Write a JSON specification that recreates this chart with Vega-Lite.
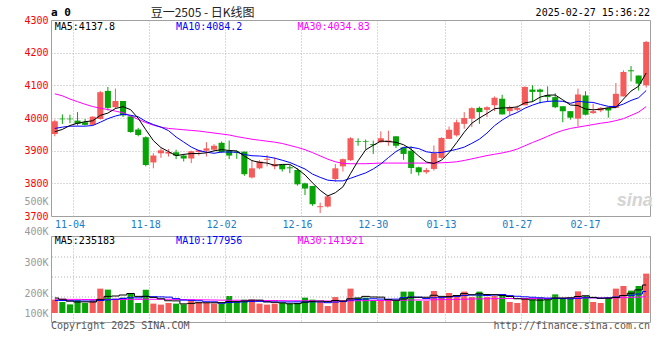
{
"$schema":"https://vega.github.io/schema/vega-lite/v6.json",
"padding":{"left":23,"top":6,"right":8,"bottom":4},
"background":"white",
"bounds":"flush",
"spacing":20,
"config":{"view":{"stroke":"#a0a0a0","strokeWidth":1},"font":"DejaVu Sans Mono","axis":{"labelOverlap":false}},
"datasets":{"k":[
{"d":"10-31","o":3951,"h":3995,"l":3944,"c":3990,"v":107000,"m5":3958,"m10":3968,"m30":4074,"vm5":120000,"vm10":100000,"vm30":110000},
{"d":"11-01","o":3998,"h":4011,"l":3982,"c":3996,"v":88000,"m5":3965,"m10":3972,"m30":4068,"vm5":110000,"vm10":100000,"vm30":110000},
{"d":"11-04","o":3998,"h":4010,"l":3984,"c":3996,"v":69000,"m5":3977,"m10":3975,"m30":4058,"vm5":95000,"vm10":98000,"vm30":109000},
{"d":"11-05","o":3992,"h":4018,"l":3977,"c":3982,"v":101000,"m5":3984,"m10":3975,"m30":4050,"vm5":88000,"vm10":97000,"vm30":109000},
{"d":"11-06","o":3987,"h":3997,"l":3977,"c":3979,"v":80000,"m5":3988.6,"m10":3975,"m30":4042,"vm5":89000,"vm10":96000,"vm30":108000},
{"d":"11-07","o":3979,"h":4005,"l":3977,"c":4004,"v":101000,"m5":3991.4,"m10":3977,"m30":4035,"vm5":88000,"vm10":96000,"vm30":108000},
{"d":"11-08","o":3997,"h":4083,"l":3995,"c":4079,"v":195000,"m5":4008,"m10":3987,"m30":4030,"vm5":109000,"vm10":100000,"vm30":108000},
{"d":"11-11","o":4083,"h":4095,"l":4023,"c":4031,"v":187000,"m5":4015,"m10":3998,"m30":4026,"vm5":133000,"vm10":105000,"vm30":108000},
{"d":"11-12","o":4033,"h":4090,"l":4028,"c":4052,"v":115000,"m5":4029,"m10":4006,"m30":4021,"vm5":136000,"vm10":110000,"vm30":108000},
{"d":"11-13","o":4052,"h":4052,"l":4003,"c":4008,"v":123000,"m5":4034.8,"m10":4011.7,"m30":4016,"vm5":144000,"vm10":116500,"vm30":108000},
{"d":"11-14","o":4005,"h":4005,"l":3955,"c":3957,"v":160000,"m5":4025.4,"m10":4008.4,"m30":4006,"vm5":156000,"vm10":122000,"vm30":109000},
{"d":"11-15","o":3965,"h":3970,"l":3944,"c":3948,"v":80000,"m5":3999.2,"m10":4003.6,"m30":3996,"vm5":133000,"vm10":121000,"vm30":109000},
{"d":"11-18","o":3941,"h":3944,"l":3852,"c":3856,"v":187000,"m5":3964.2,"m10":3989.6,"m30":3986,"vm5":133000,"vm10":133000,"vm30":110000},
{"d":"11-19","o":3864,"h":3892,"l":3846,"c":3885,"v":75000,"m5":3930.8,"m10":3979.9,"m30":3978,"vm5":125000,"vm10":130500,"vm30":110000},
{"d":"11-20","o":3892,"h":3907,"l":3878,"c":3901,"v":67000,"m5":3909.4,"m10":3972.1,"m30":3972,"vm5":114000,"vm10":129000,"vm30":110000},
{"d":"11-21","o":3891,"h":3905,"l":3882,"c":3896,"v":80000,"m5":3897.2,"m10":3961.3,"m30":3968,"vm5":98000,"vm10":127000,"vm30":110000},
{"d":"11-22","o":3895,"h":3903,"l":3874,"c":3885,"v":75000,"m5":3884.6,"m10":3941.9,"m30":3966,"vm5":97000,"vm10":115000,"vm30":109000},
{"d":"11-25","o":3885,"h":3890,"l":3867,"c":3876,"v":69000,"m5":3888.6,"m10":3926.4,"m30":3964,"vm5":73000,"vm10":103000,"vm30":108000},
{"d":"11-26","o":3876,"h":3900,"l":3862,"c":3898,"v":96000,"m5":3891.2,"m10":3911,"m30":3962,"vm5":77000,"vm10":101000,"vm30":107000},
{"d":"11-27","o":3896,"h":3903,"l":3885,"c":3901,"v":88000,"m5":3891.2,"m10":3900.3,"m30":3960,"vm5":82000,"vm10":98000,"vm30":106000},
{"d":"11-28","o":3900,"h":3926,"l":3882,"c":3907,"v":80000,"m5":3893.4,"m10":3895.3,"m30":3957,"vm5":82000,"vm10":90000,"vm30":105000},
{"d":"11-29","o":3903,"h":3920,"l":3900,"c":3915,"v":75000,"m5":3899.4,"m10":3892,"m30":3954,"vm5":82000,"vm10":89500,"vm30":104000},
{"d":"12-02","o":3924,"h":3928,"l":3893,"c":3895,"v":75000,"m5":3903.2,"m10":3895.9,"m30":3951,"vm5":83000,"vm10":78000,"vm30":103000},
{"d":"12-03","o":3900,"h":3931,"l":3874,"c":3885,"v":136000,"m5":3900.6,"m10":3895.9,"m30":3948,"vm5":91000,"vm10":84000,"vm30":102000},
{"d":"12-04","o":3897,"h":3900,"l":3875,"c":3894,"v":88000,"m5":3899.2,"m10":3895.2,"m30":3943,"vm5":91000,"vm10":86500,"vm30":102000},
{"d":"12-05","o":3897,"h":3897,"l":3823,"c":3828,"v":107000,"m5":3883.4,"m10":3888.4,"m30":3939,"vm5":96000,"vm10":89000,"vm30":101000},
{"d":"12-06","o":3818,"h":3869,"l":3815,"c":3846,"v":107000,"m5":3869.6,"m10":3884.5,"m30":3935,"vm5":103000,"vm10":92500,"vm30":101000},
{"d":"12-09","o":3846,"h":3871,"l":3843,"c":3867,"v":75000,"m5":3864,"m10":3883.6,"m30":3932,"vm5":103000,"vm10":93000,"vm30":100000},
{"d":"12-10","o":3872,"h":3887,"l":3852,"c":3875,"v":67000,"m5":3862,"m10":3881.3,"m30":3929,"vm5":89000,"vm10":90000,"vm30":100000},
{"d":"12-11","o":3852,"h":3879,"l":3843,"c":3859,"v":75000,"m5":3855,"m10":3877.1,"m30":3926,"vm5":86000,"vm10":88500,"vm30":100000},
{"d":"12-12","o":3857,"h":3857,"l":3836,"c":3843,"v":80000,"m5":3858,"m10":3870.7,"m30":3922,"vm5":81000,"vm10":88500,"vm30":99000},
{"d":"12-13","o":3849,"h":3856,"l":3831,"c":3846,"v":75000,"m5":3858,"m10":3863.8,"m30":3916,"vm5":74000,"vm10":88500,"vm30":98000},
{"d":"12-16","o":3841,"h":3846,"l":3793,"c":3797,"v":80000,"m5":3844,"m10":3854,"m30":3910,"vm5":75000,"vm10":89000,"vm30":98000},
{"d":"12-17","o":3800,"h":3802,"l":3764,"c":3784,"v":123000,"m5":3825.8,"m10":3843.9,"m30":3903,"vm5":87000,"vm10":88000,"vm30":98000},
{"d":"12-18","o":3792,"h":3792,"l":3731,"c":3736,"v":107000,"m5":3801.2,"m10":3828.1,"m30":3894,"vm5":93000,"vm10":89500,"vm30":98000},
{"d":"12-19","o":3727,"h":3741,"l":3709,"c":3730,"v":88000,"m5":3778.6,"m10":3818.3,"m30":3884,"vm5":95000,"vm10":88000,"vm30":97000},
{"d":"12-20","o":3729,"h":3765,"l":3726,"c":3760,"v":56000,"m5":3761.4,"m10":3809.7,"m30":3874,"vm5":91000,"vm10":82500,"vm30":96000},
{"d":"12-23","o":3813,"h":3859,"l":3805,"c":3846,"v":128000,"m5":3771.2,"m10":3807.6,"m30":3866,"vm5":100000,"vm10":87500,"vm30":96000},
{"d":"12-24","o":3852,"h":3876,"l":3836,"c":3874,"v":101000,"m5":3789.2,"m10":3807.5,"m30":3861,"vm5":96000,"vm10":91500,"vm30":96000},
{"d":"12-25","o":3871,"h":3941,"l":3869,"c":3938,"v":195000,"m5":3829.6,"m10":3815.4,"m30":3860,"vm5":114000,"vm10":103500,"vm30":97000},
{"d":"12-26","o":3929,"h":3938,"l":3915,"c":3927,"v":120000,"m5":3869,"m10":3823.8,"m30":3860,"vm5":120000,"vm10":107500,"vm30":98000},
{"d":"12-27","o":3929,"h":3934,"l":3903,"c":3927,"v":123000,"m5":3902.4,"m10":3831.9,"m30":3860,"vm5":133000,"vm10":112000,"vm30":99000},
{"d":"12-30","o":3920,"h":3931,"l":3890,"c":3917,"v":101000,"m5":3916.6,"m10":3843.9,"m30":3861,"vm5":128000,"vm10":114000,"vm30":100000},
{"d":"12-31","o":3926,"h":3959,"l":3924,"c":3938,"v":96000,"m5":3929.4,"m10":3859.3,"m30":3862,"vm5":127000,"vm10":111500,"vm30":100000},
{"d":"01-02","o":3926,"h":3961,"l":3915,"c":3931,"v":96000,"m5":3928,"m10":3878.8,"m30":3862,"vm5":107000,"vm10":110500,"vm30":100000},
{"d":"01-03","o":3944,"h":3944,"l":3908,"c":3915,"v":96000,"m5":3925.6,"m10":3897.3,"m30":3862,"vm5":102000,"vm10":111000,"vm30":100000},
{"d":"01-06","o":3910,"h":3910,"l":3872,"c":3890,"v":171000,"m5":3918.2,"m10":3910.3,"m30":3862,"vm5":112000,"vm10":122500,"vm30":102000},
{"d":"01-07","o":3900,"h":3913,"l":3829,"c":3847,"v":171000,"m5":3904.2,"m10":3910.4,"m30":3862,"vm5":126000,"vm10":127000,"vm30":104000},
{"d":"01-08","o":3849,"h":3851,"l":3824,"c":3834,"v":96000,"m5":3883.4,"m10":3906.4,"m30":3862,"vm5":126000,"vm10":126500,"vm30":104000},
{"d":"01-09","o":3834,"h":3847,"l":3829,"c":3841,"v":96000,"m5":3865.4,"m10":3896.7,"m30":3862,"vm5":126000,"vm10":116500,"vm30":104000},
{"d":"01-10","o":3844,"h":3916,"l":3839,"c":3892,"v":176000,"m5":3860.8,"m10":3893.2,"m30":3862,"vm5":142000,"vm10":122000,"vm30":106000},
{"d":"01-13","o":3878,"h":3941,"l":3875,"c":3939,"v":128000,"m5":3870.6,"m10":3894.4,"m30":3863,"vm5":133000,"vm10":122500,"vm30":107000},
{"d":"01-14","o":3936,"h":3974,"l":3936,"c":3964,"v":160000,"m5":3894,"m10":3899.1,"m30":3864,"vm5":131000,"vm10":128500,"vm30":108000},
{"d":"01-15","o":3947,"h":3995,"l":3943,"c":3987,"v":141000,"m5":3924.6,"m10":3904,"m30":3866,"vm5":140000,"vm10":133000,"vm30":109000},
{"d":"01-16","o":3982,"h":4018,"l":3967,"c":4000,"v":171000,"m5":3956.4,"m10":3910.9,"m30":3870,"vm5":155000,"vm10":140500,"vm30":110000},
{"d":"01-17","o":3998,"h":4033,"l":3972,"c":4030,"v":128000,"m5":3984,"m10":3922.4,"m30":3875,"vm5":146000,"vm10":144000,"vm30":112000},
{"d":"01-20","o":4031,"h":4035,"l":3982,"c":4018,"v":171000,"m5":3999.8,"m10":3935.2,"m30":3880,"vm5":154000,"vm10":143500,"vm30":113000},
{"d":"01-21","o":4025,"h":4036,"l":4003,"c":4033,"v":128000,"m5":4013.6,"m10":3953.8,"m30":3885,"vm5":148000,"vm10":139500,"vm30":114000},
{"d":"01-22","o":4039,"h":4066,"l":4021,"c":4062,"v":136000,"m5":4028.6,"m10":3976.6,"m30":3889,"vm5":147000,"vm10":143500,"vm30":115000},
{"d":"01-23","o":4059,"h":4071,"l":4011,"c":4011,"v":136000,"m5":4030.8,"m10":3993.6,"m30":3893,"vm5":140000,"vm10":147500,"vm30":116000},
{"d":"01-24","o":4021,"h":4038,"l":4008,"c":4033,"v":88000,"m5":4031.4,"m10":4007.7,"m30":3898,"vm5":132000,"vm10":139000,"vm30":116000},
{"d":"01-27","o":4025,"h":4038,"l":4020,"c":4031,"v":80000,"m5":4034,"m10":4016.9,"m30":3905,"vm5":114000,"vm10":134000,"vm30":116000},
{"d":"02-05","o":4039,"h":4097,"l":4039,"c":4095,"v":115000,"m5":4046.4,"m10":4030,"m30":3915,"vm5":111000,"vm10":129500,"vm30":116000},
{"d":"02-06","o":4087,"h":4100,"l":4049,"c":4080,"v":107000,"m5":4050,"m10":4039.3,"m30":3925,"vm5":105000,"vm10":126000,"vm30":116000},
{"d":"02-07","o":4087,"h":4090,"l":4044,"c":4080,"v":123000,"m5":4063.8,"m10":4047.3,"m30":3934,"vm5":103000,"vm10":121500,"vm30":117000},
{"d":"02-10","o":4070,"h":4097,"l":4049,"c":4064,"v":107000,"m5":4070,"m10":4050.7,"m30":3944,"vm5":106000,"vm10":119000,"vm30":117000},
{"d":"02-11","o":4064,"h":4076,"l":4030,"c":4033,"v":149000,"m5":4070.4,"m10":4052.2,"m30":3954,"vm5":120000,"vm10":117000,"vm30":118000},
{"d":"02-12","o":4036,"h":4036,"l":3987,"c":4021,"v":115000,"m5":4055.6,"m10":4051,"m30":3962,"vm5":120000,"vm10":115500,"vm30":118000},
{"d":"02-13","o":4021,"h":4021,"l":3995,"c":4001,"v":115000,"m5":4039.8,"m10":4044.9,"m30":3968,"vm5":122000,"vm10":113500,"vm30":119000},
{"d":"02-14","o":3998,"h":4090,"l":3974,"c":4072,"v":173000,"m5":4038.2,"m10":4051,"m30":3972,"vm5":132000,"vm10":117500,"vm30":120000},
{"d":"02-17","o":4069,"h":4082,"l":4008,"c":4010,"v":136000,"m5":4027.4,"m10":4048.7,"m30":3976,"vm5":138000,"vm10":122000,"vm30":121000},
{"d":"02-18","o":4015,"h":4044,"l":4013,"c":4021,"v":88000,"m5":4025,"m10":4047.7,"m30":3980,"vm5":125000,"vm10":122500,"vm30":121000},
{"d":"02-19","o":4023,"h":4033,"l":4018,"c":4031,"v":80000,"m5":4027,"m10":4041.3,"m30":3984,"vm5":118000,"vm10":119000,"vm30":120000},
{"d":"02-20","o":4031,"h":4031,"l":4001,"c":4023,"v":120000,"m5":4031.4,"m10":4035.6,"m30":3987,"vm5":119000,"vm10":120500,"vm30":120000},
{"d":"02-21","o":4031,"h":4107,"l":4031,"c":4074,"v":195000,"m5":4031.8,"m10":4035,"m30":3992,"vm5":124000,"vm10":128000,"vm30":121000},
{"d":"02-24","o":4066,"h":4146,"l":4066,"c":4141,"v":216000,"m5":4058,"m10":4042.7,"m30":3998,"vm5":140000,"vm10":139000,"vm30":123000},
{"d":"02-25","o":4146,"h":4159,"l":4112,"c":4143,"v":179000,"m5":4082.4,"m10":4053.7,"m30":4008,"vm5":158000,"vm10":141500,"vm30":125000},
{"d":"02-26","o":4130,"h":4130,"l":4084,"c":4105,"v":216000,"m5":4097.2,"m10":4062.1,"m30":4018,"vm5":185000,"vm10":151500,"vm30":127000},
{"d":"02-27","o":4100,"h":4236,"l":4093,"c":4233,"v":315000,"m5":4137.8,"m10":4084.2,"m30":4034.83,"vm5":224000,"vm10":171500,"vm30":130000}
]},
"vconcat":[
{
"width":599,"height":196,
"layer":[
{"data":{"name":"k"},"mark":{"type":"rule","strokeWidth":1},
 "encoding":{
  "x":{"field":"d","type":"ordinal","title":null,
   "scale":{"domain":["10-31","11-01","11-04","11-05","11-06","11-07","11-08","11-11","11-12","11-13","11-14","11-15","11-18","11-19","11-20","11-21","11-22","11-25","11-26","11-27","11-28","11-29","12-02","12-03","12-04","12-05","12-06","12-09","12-10","12-11","12-12","12-13","12-16","12-17","12-18","12-19","12-20","12-23","12-24","12-25","12-26","12-27","12-30","12-31","01-02","01-03","01-06","01-07","01-08","01-09","01-10","01-13","01-14","01-15","01-16","01-17","01-20","01-21","01-22","01-23","01-24","01-27","02-05","02-06","02-07","02-10","02-11","02-12","02-13","02-14","02-17","02-18","02-19","02-20","02-21","02-24","02-25","02-26","02-27"],"paddingInner":0,"paddingOuter":0},
   "axis":{"values":["11-04","11-18","12-02","12-16","12-30","01-13","01-27","02-17"],"bandPosition":1,"grid":true,"gridColor":"#b4b4b4","gridDash":[1,2],"ticks":false,"domain":false,"labelColor":"#1b7cc9","labelFont":"DejaVu Sans Mono","labelFontSize":10,"labelPadding":3,"labelAngle":0,"labelOverlap":false}},
  "y":{"field":"l","type":"quantitative","title":null,"scale":{"domain":[3700,4300],"zero":false,"nice":false},
   "axis":{"values":[3700,3744,3800,3900,4000,4100,4200,4300],"format":"d","labelExpr":"datum.value == 3744 ? '500K' : datum.label","labelColor":{"condition":{"test":"datum.value == 3744","value":"#9a9a9a"},"value":"#ff0000"},"grid":true,"gridColor":"#b4b4b4","gridDash":[1,2],"gridOpacity":{"condition":{"test":"datum.value == 3744 || datum.value == 3700 || datum.value == 4300","value":0},"value":1},"ticks":false,"domain":false,"labelFont":"DejaVu Sans Mono","labelFontSize":10,"labelPadding":3,"labelOverlap":false}},
  "y2":{"field":"h"},
  "color":{"condition":{"test":"datum.c >= datum.o","value":"#f65b5b"},"value":"#07a307"}}},
{"data":{"name":"k"},"mark":{"type":"bar","width":{"band":0.8}},
 "encoding":{"x":{"field":"d","type":"ordinal","title":null},"y":{"field":"o","type":"quantitative","title":null,
   "axis":{"values":[3700,3744,3800,3900,4000,4100,4200,4300],"format":"d","labelExpr":"datum.value == 3744 ? '500K' : datum.label","labelColor":{"condition":{"test":"datum.value == 3744","value":"#9a9a9a"},"value":"#ff0000"},"grid":true,"gridColor":"#b4b4b4","gridDash":[1,2],"gridOpacity":{"condition":{"test":"datum.value == 3744 || datum.value == 3700 || datum.value == 4300","value":0},"value":1},"ticks":false,"domain":false,"labelFont":"DejaVu Sans Mono","labelFontSize":10,"labelPadding":3,"labelOverlap":false}},"y2":{"field":"c"},
  "color":{"condition":{"test":"datum.c >= datum.o","value":"#f65b5b"},"value":"#07a307"}}},
{"data":{"name":"k"},"mark":{"type":"line","color":"#ff00ff","strokeWidth":1},
 "encoding":{"x":{"field":"d","type":"ordinal","title":null},"y":{"field":"m30","type":"quantitative","title":null,
   "axis":{"values":[3700,3744,3800,3900,4000,4100,4200,4300],"format":"d","labelExpr":"datum.value == 3744 ? '500K' : datum.label","labelColor":{"condition":{"test":"datum.value == 3744","value":"#9a9a9a"},"value":"#ff0000"},"grid":true,"gridColor":"#b4b4b4","gridDash":[1,2],"gridOpacity":{"condition":{"test":"datum.value == 3744 || datum.value == 3700 || datum.value == 4300","value":0},"value":1},"ticks":false,"domain":false,"labelFont":"DejaVu Sans Mono","labelFontSize":10,"labelPadding":3,"labelOverlap":false}}}},
{"data":{"name":"k"},"mark":{"type":"line","color":"#0000ff","strokeWidth":1},
 "encoding":{"x":{"field":"d","type":"ordinal","title":null},"y":{"field":"m10","type":"quantitative","title":null,
   "axis":{"values":[3700,3744,3800,3900,4000,4100,4200,4300],"format":"d","labelExpr":"datum.value == 3744 ? '500K' : datum.label","labelColor":{"condition":{"test":"datum.value == 3744","value":"#9a9a9a"},"value":"#ff0000"},"grid":true,"gridColor":"#b4b4b4","gridDash":[1,2],"gridOpacity":{"condition":{"test":"datum.value == 3744 || datum.value == 3700 || datum.value == 4300","value":0},"value":1},"ticks":false,"domain":false,"labelFont":"DejaVu Sans Mono","labelFontSize":10,"labelPadding":3,"labelOverlap":false}}}},
{"data":{"name":"k"},"mark":{"type":"line","color":"#000000","strokeWidth":1},
 "encoding":{"x":{"field":"d","type":"ordinal","title":null},"y":{"field":"m5","type":"quantitative","title":null,
   "axis":{"values":[3700,3744,3800,3900,4000,4100,4200,4300],"format":"d","labelExpr":"datum.value == 3744 ? '500K' : datum.label","labelColor":{"condition":{"test":"datum.value == 3744","value":"#9a9a9a"},"value":"#ff0000"},"grid":true,"gridColor":"#b4b4b4","gridDash":[1,2],"gridOpacity":{"condition":{"test":"datum.value == 3744 || datum.value == 3700 || datum.value == 4300","value":0},"value":1},"ticks":false,"domain":false,"labelFont":"DejaVu Sans Mono","labelFontSize":10,"labelPadding":3,"labelOverlap":false}}}},
{"data":{"values":[{}]},"mark":{"type":"text","align":"left","baseline":"middle","font":"DejaVu Sans Mono","fontSize":10,"color":"#000000","text":"MA5:4137.8"},
 "encoding":{"x":{"datum":"10-31","type":"ordinal","title":null},"y":{"datum":4279,"type":"quantitative","title":null,
   "axis":{"values":[3700,3744,3800,3900,4000,4100,4200,4300],"format":"d","labelExpr":"datum.value == 3744 ? '500K' : datum.label","labelColor":{"condition":{"test":"datum.value == 3744","value":"#9a9a9a"},"value":"#ff0000"},"grid":true,"gridColor":"#b4b4b4","gridDash":[1,2],"gridOpacity":{"condition":{"test":"datum.value == 3744 || datum.value == 3700 || datum.value == 4300","value":0},"value":1},"ticks":false,"domain":false,"labelFont":"DejaVu Sans Mono","labelFontSize":10,"labelPadding":3,"labelOverlap":false}}}},
{"data":{"values":[{}]},"mark":{"type":"text","align":"left","baseline":"middle","font":"DejaVu Sans Mono","fontSize":10,"color":"#0000ff","text":"MA10:4084.2"},
 "encoding":{"x":{"datum":"11-22","type":"ordinal","title":null},"y":{"datum":4279,"type":"quantitative","title":null,
   "axis":{"values":[3700,3744,3800,3900,4000,4100,4200,4300],"format":"d","labelExpr":"datum.value == 3744 ? '500K' : datum.label","labelColor":{"condition":{"test":"datum.value == 3744","value":"#9a9a9a"},"value":"#ff0000"},"grid":true,"gridColor":"#b4b4b4","gridDash":[1,2],"gridOpacity":{"condition":{"test":"datum.value == 3744 || datum.value == 3700 || datum.value == 4300","value":0},"value":1},"ticks":false,"domain":false,"labelFont":"DejaVu Sans Mono","labelFontSize":10,"labelPadding":3,"labelOverlap":false}}}},
{"data":{"values":[{}]},"mark":{"type":"text","align":"left","baseline":"middle","font":"DejaVu Sans Mono","fontSize":10,"color":"#ff00ff","text":"MA30:4034.83"},
 "encoding":{"x":{"datum":"12-16","type":"ordinal","title":null},"y":{"datum":4279,"type":"quantitative","title":null,
   "axis":{"values":[3700,3744,3800,3900,4000,4100,4200,4300],"format":"d","labelExpr":"datum.value == 3744 ? '500K' : datum.label","labelColor":{"condition":{"test":"datum.value == 3744","value":"#9a9a9a"},"value":"#ff0000"},"grid":true,"gridColor":"#b4b4b4","gridDash":[1,2],"gridOpacity":{"condition":{"test":"datum.value == 3744 || datum.value == 3700 || datum.value == 4300","value":0},"value":1},"ticks":false,"domain":false,"labelFont":"DejaVu Sans Mono","labelFontSize":10,"labelPadding":3,"labelOverlap":false}}}},
{"data":{"values":[{}]},"mark":{"type":"text","align":"left","baseline":"middle","font":"DejaVu Sans Mono","fontSize":11,"fontWeight":"bold","color":"#000000","text":"a 0"},
 "encoding":{"x":{"datum":"10-31","type":"ordinal","bandPosition":0,"title":null},"y":{"datum":4320,"type":"quantitative","title":null,
   "axis":{"values":[3700,3744,3800,3900,4000,4100,4200,4300],"format":"d","labelExpr":"datum.value == 3744 ? '500K' : datum.label","labelColor":{"condition":{"test":"datum.value == 3744","value":"#9a9a9a"},"value":"#ff0000"},"grid":true,"gridColor":"#b4b4b4","gridDash":[1,2],"gridOpacity":{"condition":{"test":"datum.value == 3744 || datum.value == 3700 || datum.value == 4300","value":0},"value":1},"ticks":false,"domain":false,"labelFont":"DejaVu Sans Mono","labelFontSize":10,"labelPadding":3,"labelOverlap":false}}}},
{"data":{"values":[{}]},"mark":{"type":"text","align":"center","baseline":"middle","font":"Noto Sans CJK SC","fontSize":12,"color":"#222222","text":"豆一2505 - 日K线图"},
 "encoding":{"x":{"datum":"11-27","type":"ordinal","bandPosition":1,"title":null},"y":{"datum":4321,"type":"quantitative","title":null,
   "axis":{"values":[3700,3744,3800,3900,4000,4100,4200,4300],"format":"d","labelExpr":"datum.value == 3744 ? '500K' : datum.label","labelColor":{"condition":{"test":"datum.value == 3744","value":"#9a9a9a"},"value":"#ff0000"},"grid":true,"gridColor":"#b4b4b4","gridDash":[1,2],"gridOpacity":{"condition":{"test":"datum.value == 3744 || datum.value == 3700 || datum.value == 4300","value":0},"value":1},"ticks":false,"domain":false,"labelFont":"DejaVu Sans Mono","labelFontSize":10,"labelPadding":3,"labelOverlap":false}}}},
{"data":{"values":[{}]},"mark":{"type":"text","align":"right","baseline":"middle","font":"DejaVu Sans Mono","fontSize":10,"color":"#000000","text":"2025-02-27 15:36:22"},
 "encoding":{"x":{"datum":"02-27","type":"ordinal","bandPosition":1,"title":null},"y":{"datum":4320,"type":"quantitative","title":null,
   "axis":{"values":[3700,3744,3800,3900,4000,4100,4200,4300],"format":"d","labelExpr":"datum.value == 3744 ? '500K' : datum.label","labelColor":{"condition":{"test":"datum.value == 3744","value":"#9a9a9a"},"value":"#ff0000"},"grid":true,"gridColor":"#b4b4b4","gridDash":[1,2],"gridOpacity":{"condition":{"test":"datum.value == 3744 || datum.value == 3700 || datum.value == 4300","value":0},"value":1},"ticks":false,"domain":false,"labelFont":"DejaVu Sans Mono","labelFontSize":10,"labelPadding":3,"labelOverlap":false}}}},
{"data":{"values":[{}]},"mark":{"type":"text","align":"center","baseline":"middle","font":"Liberation Sans","fontSize":18,"fontStyle":"italic","fontWeight":"bold","color":"#d4d4d4","text":"sina"},
 "encoding":{"x":{"datum":"02-25","type":"ordinal","bandPosition":1,"title":null},"y":{"datum":3745,"type":"quantitative","title":null,
   "axis":{"values":[3700,3744,3800,3900,4000,4100,4200,4300],"format":"d","labelExpr":"datum.value == 3744 ? '500K' : datum.label","labelColor":{"condition":{"test":"datum.value == 3744","value":"#9a9a9a"},"value":"#ff0000"},"grid":true,"gridColor":"#b4b4b4","gridDash":[1,2],"gridOpacity":{"condition":{"test":"datum.value == 3744 || datum.value == 3700 || datum.value == 4300","value":0},"value":1},"ticks":false,"domain":false,"labelFont":"DejaVu Sans Mono","labelFontSize":10,"labelPadding":3,"labelOverlap":false}}}}
]},
{
"width":599,"height":86,
"layer":[
{"data":{"name":"k"},"mark":{"type":"bar","width":{"band":0.8}},
 "encoding":{
  "x":{"field":"d","type":"ordinal","title":null,
   "scale":{"domain":["10-31","11-01","11-04","11-05","11-06","11-07","11-08","11-11","11-12","11-13","11-14","11-15","11-18","11-19","11-20","11-21","11-22","11-25","11-26","11-27","11-28","11-29","12-02","12-03","12-04","12-05","12-06","12-09","12-10","12-11","12-12","12-13","12-16","12-17","12-18","12-19","12-20","12-23","12-24","12-25","12-26","12-27","12-30","12-31","01-02","01-03","01-06","01-07","01-08","01-09","01-10","01-13","01-14","01-15","01-16","01-17","01-20","01-21","01-22","01-23","01-24","01-27","02-05","02-06","02-07","02-10","02-11","02-12","02-13","02-14","02-17","02-18","02-19","02-20","02-21","02-24","02-25","02-26","02-27"],"paddingInner":0,"paddingOuter":0},
   "axis":{"values":["11-04","11-18","12-02","12-16","12-30","01-13","01-27","02-17"],"bandPosition":1,"grid":true,"gridColor":"#b4b4b4","gridDash":[1,2],"ticks":false,"domain":false,"labels":false}},
  "y":{"field":"v","type":"quantitative","title":null,"scale":{"domain":[-72000,616000],"zero":false,"nice":false},
   "axis":{"values":[0,160000,408000,616000],"labelExpr":"datum.value == 0 ? '100K' : datum.value == 160000 ? '200K' : datum.value == 408000 ? '300K' : '400K'","labelColor":"#9a9a9a","labelFont":"DejaVu Sans Mono","labelFontSize":10,"labelPadding":3,"grid":false,"ticks":false,"domain":false,"labelOverlap":false,"labelBaseline":{"condition":{"test":"datum.value == 616000","value":"bottom"},"value":"middle"}}},
  "y2":{"datum":0},
  "color":{"condition":{"test":"datum.c >= datum.o","value":"#f65b5b"},"value":"#07a307"}}},
{"data":{"values":[{}]},"mark":{"type":"rule","color":"#b4b4b4","strokeDash":[1,2]},"encoding":{"y":{"datum":128000,"type":"quantitative","title":null,
   "axis":{"values":[0,160000,408000,616000],"labelExpr":"datum.value == 0 ? '100K' : datum.value == 160000 ? '200K' : datum.value == 408000 ? '300K' : '400K'","labelColor":"#9a9a9a","labelFont":"DejaVu Sans Mono","labelFontSize":10,"labelPadding":3,"grid":false,"ticks":false,"domain":false,"labelOverlap":false,"labelBaseline":{"condition":{"test":"datum.value == 616000","value":"bottom"},"value":"middle"}}}}},
{"data":{"values":[{}]},"mark":{"type":"rule","color":"#b4b4b4","strokeDash":[1,2]},"encoding":{"y":{"datum":288000,"type":"quantitative","title":null,
   "axis":{"values":[0,160000,408000,616000],"labelExpr":"datum.value == 0 ? '100K' : datum.value == 160000 ? '200K' : datum.value == 408000 ? '300K' : '400K'","labelColor":"#9a9a9a","labelFont":"DejaVu Sans Mono","labelFontSize":10,"labelPadding":3,"grid":false,"ticks":false,"domain":false,"labelOverlap":false,"labelBaseline":{"condition":{"test":"datum.value == 616000","value":"bottom"},"value":"middle"}}}}},
{"data":{"values":[{}]},"mark":{"type":"rule","color":"#b4b4b4","strokeDash":[1,2]},"encoding":{"y":{"datum":448000,"type":"quantitative","title":null,
   "axis":{"values":[0,160000,408000,616000],"labelExpr":"datum.value == 0 ? '100K' : datum.value == 160000 ? '200K' : datum.value == 408000 ? '300K' : '400K'","labelColor":"#9a9a9a","labelFont":"DejaVu Sans Mono","labelFontSize":10,"labelPadding":3,"grid":false,"ticks":false,"domain":false,"labelOverlap":false,"labelBaseline":{"condition":{"test":"datum.value == 616000","value":"bottom"},"value":"middle"}}}}},
{"data":{"name":"k"},"mark":{"type":"line","color":"#ff00ff","strokeWidth":1,"interpolate":"step"},
 "encoding":{"x":{"field":"d","type":"ordinal","title":null},"y":{"field":"vm30","type":"quantitative","title":null,
   "axis":{"values":[0,160000,408000,616000],"labelExpr":"datum.value == 0 ? '100K' : datum.value == 160000 ? '200K' : datum.value == 408000 ? '300K' : '400K'","labelColor":"#9a9a9a","labelFont":"DejaVu Sans Mono","labelFontSize":10,"labelPadding":3,"grid":false,"ticks":false,"domain":false,"labelOverlap":false,"labelBaseline":{"condition":{"test":"datum.value == 616000","value":"bottom"},"value":"middle"}}}}},
{"data":{"name":"k"},"mark":{"type":"line","color":"#0000ff","strokeWidth":1,"interpolate":"step"},
 "encoding":{"x":{"field":"d","type":"ordinal","title":null},"y":{"field":"vm10","type":"quantitative","title":null,
   "axis":{"values":[0,160000,408000,616000],"labelExpr":"datum.value == 0 ? '100K' : datum.value == 160000 ? '200K' : datum.value == 408000 ? '300K' : '400K'","labelColor":"#9a9a9a","labelFont":"DejaVu Sans Mono","labelFontSize":10,"labelPadding":3,"grid":false,"ticks":false,"domain":false,"labelOverlap":false,"labelBaseline":{"condition":{"test":"datum.value == 616000","value":"bottom"},"value":"middle"}}}}},
{"data":{"name":"k"},"mark":{"type":"line","color":"#000000","strokeWidth":1,"interpolate":"step"},
 "encoding":{"x":{"field":"d","type":"ordinal","title":null},"y":{"field":"vm5","type":"quantitative","title":null,
   "axis":{"values":[0,160000,408000,616000],"labelExpr":"datum.value == 0 ? '100K' : datum.value == 160000 ? '200K' : datum.value == 408000 ? '300K' : '400K'","labelColor":"#9a9a9a","labelFont":"DejaVu Sans Mono","labelFontSize":10,"labelPadding":3,"grid":false,"ticks":false,"domain":false,"labelOverlap":false,"labelBaseline":{"condition":{"test":"datum.value == 616000","value":"bottom"},"value":"middle"}}}}},
{"data":{"values":[{}]},"mark":{"type":"text","align":"left","baseline":"middle","font":"DejaVu Sans Mono","fontSize":10,"color":"#000000","text":"MA5:235183"},
 "encoding":{"x":{"datum":"10-31","type":"ordinal","title":null},"y":{"datum":576000,"type":"quantitative","title":null,
   "axis":{"values":[0,160000,408000,616000],"labelExpr":"datum.value == 0 ? '100K' : datum.value == 160000 ? '200K' : datum.value == 408000 ? '300K' : '400K'","labelColor":"#9a9a9a","labelFont":"DejaVu Sans Mono","labelFontSize":10,"labelPadding":3,"grid":false,"ticks":false,"domain":false,"labelOverlap":false,"labelBaseline":{"condition":{"test":"datum.value == 616000","value":"bottom"},"value":"middle"}}}}},
{"data":{"values":[{}]},"mark":{"type":"text","align":"left","baseline":"middle","font":"DejaVu Sans Mono","fontSize":10,"color":"#0000ff","text":"MA10:177956"},
 "encoding":{"x":{"datum":"11-22","type":"ordinal","title":null},"y":{"datum":576000,"type":"quantitative","title":null,
   "axis":{"values":[0,160000,408000,616000],"labelExpr":"datum.value == 0 ? '100K' : datum.value == 160000 ? '200K' : datum.value == 408000 ? '300K' : '400K'","labelColor":"#9a9a9a","labelFont":"DejaVu Sans Mono","labelFontSize":10,"labelPadding":3,"grid":false,"ticks":false,"domain":false,"labelOverlap":false,"labelBaseline":{"condition":{"test":"datum.value == 616000","value":"bottom"},"value":"middle"}}}}},
{"data":{"values":[{}]},"mark":{"type":"text","align":"left","baseline":"middle","font":"DejaVu Sans Mono","fontSize":10,"color":"#ff00ff","text":"MA30:141921"},
 "encoding":{"x":{"datum":"12-16","type":"ordinal","title":null},"y":{"datum":576000,"type":"quantitative","title":null,
   "axis":{"values":[0,160000,408000,616000],"labelExpr":"datum.value == 0 ? '100K' : datum.value == 160000 ? '200K' : datum.value == 408000 ? '300K' : '400K'","labelColor":"#9a9a9a","labelFont":"DejaVu Sans Mono","labelFontSize":10,"labelPadding":3,"grid":false,"ticks":false,"domain":false,"labelOverlap":false,"labelBaseline":{"condition":{"test":"datum.value == 616000","value":"bottom"},"value":"middle"}}}}},
{"data":{"values":[{}]},"mark":{"type":"text","align":"left","baseline":"middle","font":"DejaVu Sans Mono","fontSize":10,"color":"#555555","text":"Copyright 2025 SINA.COM"},
 "encoding":{"x":{"datum":"10-31","type":"ordinal","bandPosition":0,"title":null},"y":{"datum":-104000,"type":"quantitative","title":null,
   "axis":{"values":[0,160000,408000,616000],"labelExpr":"datum.value == 0 ? '100K' : datum.value == 160000 ? '200K' : datum.value == 408000 ? '300K' : '400K'","labelColor":"#9a9a9a","labelFont":"DejaVu Sans Mono","labelFontSize":10,"labelPadding":3,"grid":false,"ticks":false,"domain":false,"labelOverlap":false,"labelBaseline":{"condition":{"test":"datum.value == 616000","value":"bottom"},"value":"middle"}}}}},
{"data":{"values":[{}]},"mark":{"type":"text","align":"right","baseline":"middle","font":"DejaVu Sans Mono","fontSize":10,"color":"#555555","text":"http://finance.sina.com.cn"},
 "encoding":{"x":{"datum":"02-27","type":"ordinal","bandPosition":1,"title":null},"y":{"datum":-104000,"type":"quantitative","title":null,
   "axis":{"values":[0,160000,408000,616000],"labelExpr":"datum.value == 0 ? '100K' : datum.value == 160000 ? '200K' : datum.value == 408000 ? '300K' : '400K'","labelColor":"#9a9a9a","labelFont":"DejaVu Sans Mono","labelFontSize":10,"labelPadding":3,"grid":false,"ticks":false,"domain":false,"labelOverlap":false,"labelBaseline":{"condition":{"test":"datum.value == 616000","value":"bottom"},"value":"middle"}}}}}
]}
]
}
